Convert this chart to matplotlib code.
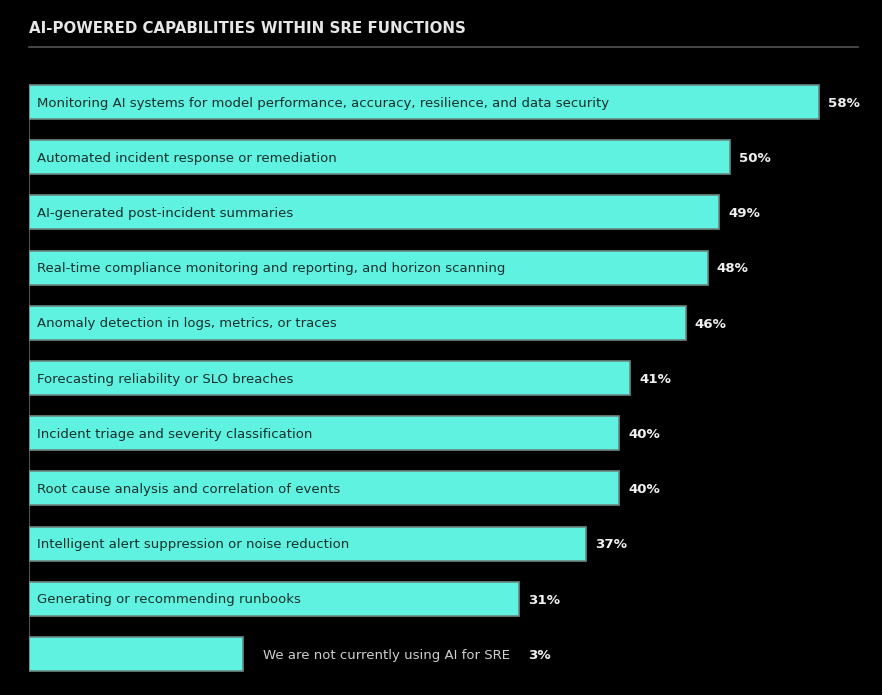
import matplotlib
matplotlib.use("Agg")
import matplotlib.pyplot as plt

title = "AI-POWERED CAPABILITIES WITHIN SRE FUNCTIONS"
categories = [
    "Monitoring AI systems for model performance, accuracy, resilience, and data security",
    "Automated incident response or remediation",
    "AI-generated post-incident summaries",
    "Real-time compliance monitoring and reporting, and horizon scanning",
    "Anomaly detection in logs, metrics, or traces",
    "Forecasting reliability or SLO breaches",
    "Incident triage and severity classification",
    "Root cause analysis and correlation of events",
    "Intelligent alert suppression or noise reduction",
    "Generating or recommending runbooks",
    "We are not currently using AI for SRE",
]
values = [58, 50, 49, 48, 46, 41, 40, 40, 37, 31, 3]

BG = "#000000"
FILL = "#5ff2e0"
EDGE = "#6a8984"
AXIS_START = -13.1
MIN_BAR_END = 6.15

W, H = 882, 695
fig = plt.figure(figsize=(W / 100, H / 100), dpi=100, facecolor=BG)

# title and rule
fig.text(29 / W, 1 - 28.5 / H, title, color="#e6e6e6", fontsize=10.85,
         fontweight="bold", family="DejaVu Sans", va="center", ha="left")
fig.add_artist(plt.Line2D([29 / W, 858 / W], [1 - 47 / H, 1 - 47 / H],
                          color="#555555", lw=1.2))

px_per = (819 - 519) / (58 - 31)
x0 = 819 - 58 * px_per
xmax = 63
left_px = 29
right_px = x0 + xmax * px_per
top_px, bot_px = 74.4, 681.6
ax = fig.add_axes([left_px / W, 1 - bot_px / H, (right_px - left_px) / W,
                   (bot_px - top_px) / H])
ax.set_facecolor(BG)
ax.set_xlim(AXIS_START, xmax)
ax.set_ylim(len(values) - 0.5, -0.5)
ax.axis("off")

bh = 0.616
ax.plot([AXIS_START, AXIS_START], [-bh / 2, len(values) - 1 + bh / 2],
        color="#555555", lw=1.5, zorder=1)

dy = 1.2 / 55.2
for i, (cat, v) in enumerate(zip(categories, values)):
    end = max(v, MIN_BAR_END)
    ax.barh(i, end - AXIS_START, left=AXIS_START, height=bh, color=FILL,
            edgecolor=EDGE, linewidth=1.2, zorder=2)
    if i < len(values) - 1:
        ax.text(AXIS_START + 8 / px_per, i + dy, cat, color="#18302d", fontsize=9.5,
                family="DejaVu Sans", va="center", ha="left", zorder=3)
        ax.text(end + 9 / px_per, i + dy, f"{v}%", color="#f0f0f0", fontsize=9.6,
                fontweight="bold", family="DejaVu Sans", va="center", ha="left")
    else:
        ax.text(end + 20 / px_per, i + dy, cat, color="#cfcfcf", fontsize=9.5,
                family="DejaVu Sans", va="center", ha="left")
        ax.text(end + 285 / px_per, i + dy, f"{v}%", color="#f0f0f0", fontsize=9.6,
                fontweight="bold", family="DejaVu Sans", va="center", ha="left")

fig.savefig("out.png", dpi=100, facecolor=BG)
